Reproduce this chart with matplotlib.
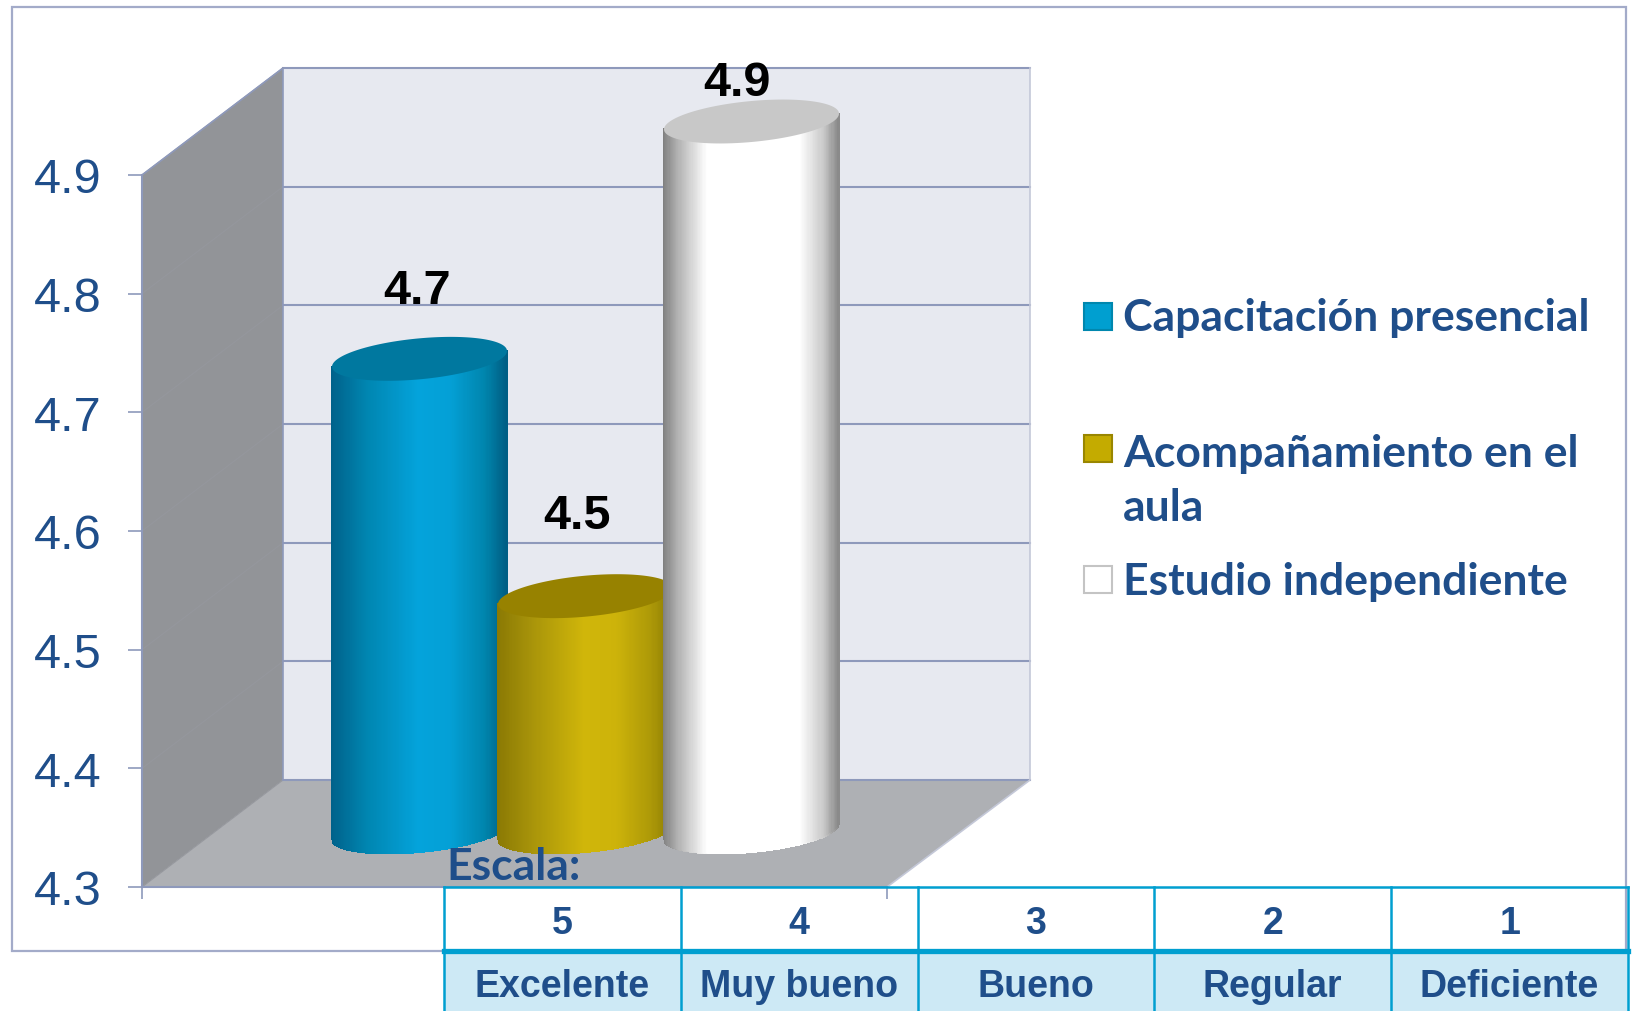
import numpy as np
import matplotlib
matplotlib.use("Agg")
import matplotlib.pyplot as plt
from matplotlib.colors import LinearSegmentedColormap
from matplotlib.patches import Polygon, Rectangle
from matplotlib.transforms import Affine2D

series = ["Capacitación presencial", "Acompañamiento en el\naula", "Estudio independiente"]
values = [4.7, 4.5, 4.9]
value_labels = ["4.7", "4.5", "4.9"]
y_ticks = [4.3, 4.4, 4.5, 4.6, 4.7, 4.8, 4.9]
scale_numbers = ["5", "4", "3", "2", "1"]
scale_names = ["Excelente", "Muy bueno", "Bueno", "Regular", "Deficiente"]

# styles
navy = "#1F4E8A"
frame_col = "#A3ABC9"
grid_col = "#8E99BB"
table_col = "#009FD0"
body_cols = [
    ["#00618A", "#0085B0", "#04A3DB", "#04A0D6", "#0085AD", "#005F85"],
    ["#8A7904", "#A8940A", "#D0B60A", "#CDB30A", "#AD9908", "#8C7B04"],
    ["#808080", "#B0B0B0", "#FFFFFF", "#FFFFFF", "#C8C8C8", "#8A8A8A"],
]
body_stops = [
    [0, 0.2, 0.5, 0.68, 0.88, 1],
    [0, 0.2, 0.5, 0.68, 0.88, 1],
    [0, 0.08, 0.25, 0.78, 0.92, 1],
]
cap_cols = ["#00789F", "#978200", "#C8C8C8"]
swatch_cols = ["#009FD0", "#C4AB00", "#FFFFFF"]
swatch_edges = ["#0087AE", "#998600", "#C4C4C4"]

W, H = 1632, 1012
PX_X = 166.0     # pixels per category step
PX_Y = 1186.7    # pixels per unit of value
depth_x = 141 / PX_X
depth_xr = 143 / PX_X   # right edge of the box recedes a little more
depth_y = 107 / PX_Y
bar_rx_px = 87.5
bar_rx = bar_rx_px / PX_X
bar_ry = 20.5
tilt = 0.09

fig = plt.figure(figsize=(W / 100, H / 100), dpi=100, facecolor="white")
plt.rcParams["font.family"] = ["Liberation Sans", "DejaVu Sans"]
px = Affine2D().scale(1, -1).translate(0, H)

fig.add_artist(Rectangle((12, 8), 1614, 944, transform=px, fill=False,
                         edgecolor=frame_col, linewidth=1.6, zorder=-1))

ax = fig.add_axes([142 / W, (H - 888) / H, 745 / W, 712 / H])
ax.patch.set_visible(False)
xmin, xmax = -207 / PX_X, 538 / PX_X
ax.set_xlim(xmin, xmax)
ax.set_ylim(4.3, 4.9)

# walls of the 3d box
y0, y1 = 4.3, 4.9
back = Polygon([(xmin + depth_x, y0 + depth_y), (xmax + depth_xr, y0 + depth_y),
                (xmax + depth_xr, y1 + depth_y), (xmin + depth_x, y1 + depth_y)],
               facecolor="#E7E9F0", edgecolor="none", clip_on=False, zorder=1)
side = Polygon([(xmin, y0), (xmin + depth_x, y0 + depth_y),
                (xmin + depth_x, y1 + depth_y), (xmin, y1)],
               facecolor="#929498", edgecolor="none", clip_on=False, zorder=1)
floor = Polygon([(xmin, y0), (xmax, y0), (xmax + depth_xr, y0 + depth_y),
                 (xmin + depth_x, y0 + depth_y)],
                facecolor="#AEB0B4", edgecolor="none", clip_on=False, zorder=1)
for p in (back, side, floor):
    ax.add_patch(p)

for t in y_ticks:
    ax.plot([xmin + depth_x, xmax + depth_xr], [t + depth_y, t + depth_y],
            color=grid_col, lw=1.5, clip_on=False, zorder=2)
    ax.plot([xmin, xmin + depth_x], [t, t + depth_y],
            color="#95979D", lw=0.8, clip_on=False, zorder=2)
ax.plot([xmin, xmin + depth_x, xmin + depth_x], [y1, y1 + depth_y, y0 + depth_y],
        color=grid_col, lw=1.2, clip_on=False, zorder=2)
ax.plot([xmax, xmax + depth_xr, xmax + depth_xr], [y0, y0 + depth_y, y1 + depth_y],
        color="#C4C8D8", lw=1.2, clip_on=False, zorder=2)

# cylinders
label_dx = [-2.5, -8, -14.5]
label_dy = [68, 81, 39]
for i, v in enumerate(values):
    cx = i + depth_x / 2
    base = y0 + depth_y / 2 + 2 / PX_Y
    top = v + depth_y / 2
    u = np.linspace(-1, 1, 161)
    xs = cx + bar_rx * u
    slope_part = tilt * bar_rx_px * u / PX_Y
    lower = base + slope_part - bar_ry * np.sqrt(1 - u ** 2) / PX_Y
    upper = top + slope_part
    X = np.vstack([xs, xs])
    Y = np.vstack([lower, upper])
    C = ((u[:-1] + u[1:]) / 2 + 1)[None, :] / 2
    cmap = LinearSegmentedColormap.from_list("body", list(zip(body_stops[i], body_cols[i])))
    mesh = ax.pcolormesh(X, Y, C, cmap=cmap, vmin=0, vmax=1, shading="flat",
                         edgecolors="face", linewidth=0.3, zorder=3 + i)
    mesh.set_clip_on(False)
    t = np.linspace(0, 2 * np.pi, 200)
    cap_x = cx + bar_rx * np.cos(t)
    cap_y = top + (tilt * bar_rx_px * np.cos(t) + bar_ry * np.sin(t)) / PX_Y
    ax.fill(cap_x, cap_y, color=cap_cols[i], lw=0, clip_on=False, zorder=3.5 + i)
    ax.annotate(value_labels[i], (cx, top), xytext=(label_dx[i] * 0.72, label_dy[i] * 0.72),
                textcoords="offset points", ha="center", va="center",
                fontsize=35, fontweight="bold", color="black",
                annotation_clip=False, zorder=10)

# axes
for s in ("top", "right"):
    ax.spines[s].set_visible(False)
for s in ("left", "bottom"):
    ax.spines[s].set_color(grid_col)
    ax.spines[s].set_linewidth(1.5)
    ax.spines[s].set_zorder(6)
ax.set_yticks(y_ticks)
ax.set_yticklabels([f"{t:.1f}" for t in y_ticks])
ax.tick_params(axis="y", length=10, width=1.2, color=grid_col, pad=19,
               labelsize=35, labelcolor=navy)
ax.set_xticks([xmin, xmax])
ax.set_xticklabels([])
ax.tick_params(axis="x", length=8.6, width=1.2, color=grid_col)

# legend
legend_font = ["Lato", "DejaVu Sans"]
legend_y = [318, 481, 582]
swatch_y = [318, 450, 581]
for i, name in enumerate(series):
    fig.add_artist(Rectangle((1084, swatch_y[i] - 14), 28, 27, transform=px,
                             facecolor=swatch_cols[i], edgecolor=swatch_edges[i], lw=1.5))
    fig.text(1123, legend_y[i], name, transform=px, family=legend_font, fontweight="bold",
             fontsize=32, color=navy, ha="left", va="center", linespacing=1.43)

fig.text(446, 867, "Escala:", transform=px, family=legend_font, fontweight="bold",
         fontsize=32, color=navy, ha="left", va="center", zorder=20)

# scale table
row_end = (H - 888) / 64
tb = fig.add_axes([444 / W, 0, (1628 - 444) / W, (H - 888) / H])
tb.set_xlim(0, len(scale_numbers))
tb.set_ylim(row_end, 0)
tb.axis("off")
tb.add_patch(Rectangle((0, 1), 5, row_end - 1, facecolor="#CDE9F5", edgecolor="none", clip_on=False))
for c in range(6):
    tb.plot([c, c], [0, row_end], color=table_col, lw=1.8, clip_on=False)
tb.plot([0, 5], [0, 0], color=table_col, lw=1.8, clip_on=False)
tb.plot([0, 5], [1, 1], color=table_col, lw=3.8, clip_on=False)
for c in range(5):
    tb.text(c + 0.5, 0.56, scale_numbers[c], ha="center", va="center",
            fontsize=27, fontweight="bold", color=navy)
    tb.text(c + 0.5, 1.55, scale_names[c], ha="center", va="center",
            fontsize=27, fontweight="bold", color=navy)

fig.savefig("out.png", dpi=100)
